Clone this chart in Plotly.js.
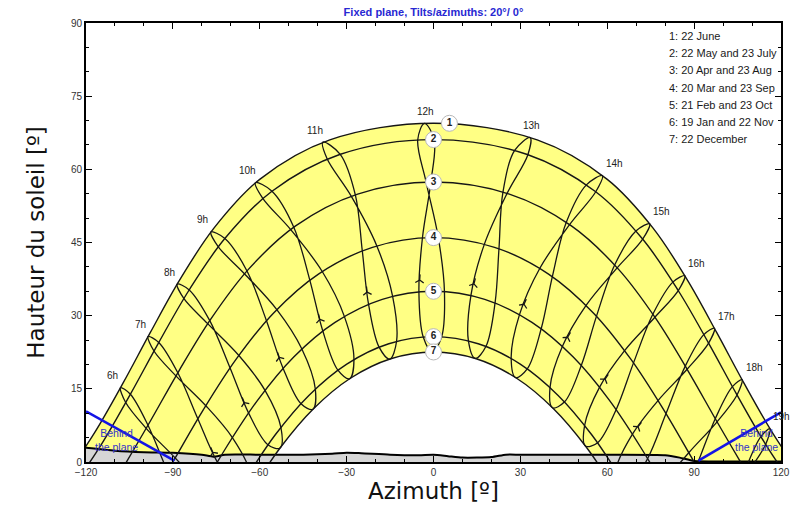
<!DOCTYPE html>
<html><head><meta charset="utf-8">
<script src="https://cdn.plot.ly/plotly-3.0.1.min.js"></script>
<style>html,body{margin:0;padding:0;background:#fff}#chart{width:791px;height:509px}</style>
</head><body><div id="chart"></div>
<script>
// ---------- Day paths (azimuth / altitude, degrees) ----------
const dayAz1 = [-127.27,-116.97,-107.32,-97.78,-87.64,-75.76,-59.9,-35.8,0,35.8,59.9,75.76,87.64,97.78,107.32,116.97,127.27];
const dayAlt1 = [-3.07,6.06,16.05,26.56,37.33,48.0,58.0,66.04,69.44,66.04,58.0,48.0,37.33,26.56,16.05,6.06,-3.07];
const dayAz2 = [-125.2,-114.63,-104.75,-94.94,-84.44,-72.13,-55.9,-32.4,0,32.4,55.9,72.13,84.44,94.94,104.75,114.63,125.2];
const dayAlt2 = [-5.68,3.67,13.82,24.43,35.21,45.76,55.46,63.04,66.1,63.04,55.46,45.76,35.21,24.43,13.82,3.67,-5.68];
const dayAz3 = [-108.6,-98.26,-87.94,-76.86,-63.92,-47.62,-26.2,0,26.2,47.62,63.92,76.86,87.94,98.26,108.6];
const dayAlt3 = [-2.59,7.89,18.65,29.33,39.49,48.41,54.92,57.4,54.92,48.41,39.49,29.33,18.65,7.89,-2.59];
const dayAz4 = [-100.54,-90,-79.46,-68.14,-55.2,-39.73,-21.09,0,21.09,39.73,55.2,68.14,79.46,90,100.54];
const dayAlt4 = [-10.73,0,10.73,21.08,30.57,38.53,44.01,46.0,44.01,38.53,30.57,21.08,10.73,0,-10.73];
const dayAz5 = [-82.04,-71.7,-60.64,-48.26,-34.0,-17.7,0,17.7,34.0,48.26,60.64,71.7,82.04];
const dayAlt5 = [-7.62,2.87,12.74,21.51,28.61,33.33,35.0,33.33,28.61,21.51,12.74,2.87,-7.62];
const dayAz6 = [-65.2,-54.7,-43.04,-29.95,-15.44,0,15.44,29.95,43.04,54.7,65.2];
const dayAlt6 = [-3.81,5.53,13.65,20.07,24.24,25.7,24.24,20.07,13.65,5.53,-3.81];
const dayAz7 = [-63.03,-52.73,-41.36,-28.7,-14.75,0,14.75,28.7,41.36,52.73,63.03];
const dayAlt7 = [-6.06,3.07,10.97,17.17,21.17,22.56,21.17,17.17,10.97,3.07,-6.06];
const dayNames = ['1','2','3','4','5','6','7'];
const dayLegend = ['1: 22 June','2: 22 May and 23 July','3: 20 Apr and 23 Aug','4: 20 Mar and 23 Sep','5: 21 Feb and 23 Oct','6: 19 Jan and 22 Nov','7: 22 December'];

// ---------- Hour analemmas: points at 20 Mar, 20 Apr, 22 May, 22 Jun, 23 Jul, 23 Aug, 23 Sep, 23 Oct, 22 Nov, 22 Dec, 19 Jan, 21 Feb ----------
const hourLabels = ['6h','7h','8h','9h','10h','11h','12h','13h','14h','15h','16h','17h','18h','19h'];
const az06 = [-91.86,-98.60,-104.68,-108.09,-106.29,-99.22,-89.19,-79.87,-73.2,-72.9,-77.4,-84.94];
const alt06 = [-1.89,7.54,13.89,15.23,12.19,6.90,0.82,-5.42,-12.2,-16.3,-16.2,-10.56];
const az07 = [-81.39,-88.30,-94.87,-98.57,-96.53,-88.94,-78.62,-69.45,-63.34,-63.28,-67.55,-74.69];
const alt07 = [8.87,18.29,24.50,25.71,22.75,17.65,11.54,5.01,-2.08,-6.27,-5.99,0.02];
const az08 = [-70.28,-77.26,-84.36,-88.52,-86.23,-77.98,-67.21,-58.18,-52.70,-52.98,-57.21,-63.92];
const alt08 = [19.33,28.98,35.28,36.47,33.54,28.36,21.84,14.70,7.10,2.87,3.55,10.13];
const az09 = [-57.71,-64.41,-72.03,-76.87,-74.36,-65.29,-54.11,-45.46,-40.81,-41.64,-45.85,-51.99];
const alt09 = [29.03,39.17,45.83,47.17,44.17,38.60,31.24,23.18,14.96,10.81,12.0,19.29];
const az10 = [-42.74,-48.25,-55.77,-61.50,-59.01,-49.38,-38.42,-30.79,-27.47,-29.01,-33.08,-38.28];
const alt10 = [37.34,48.15,55.52,57.28,54.11,47.69,39.05,29.85,21.02,17.05,18.87,26.96];
const az11 = [-24.60,-26.99,-32.21,-38.2,-36.78,-28.42,-19.57,-14.13,-12.75,-15.09,-18.83,-22.46];
const alt11 = [43.35,54.77,63.08,65.58,62.21,54.50,44.30,34.0,24.75,21.11,23.60,32.44];
const az12 = [-3.82,-0.91,0.23,-3.13,-5.45,-2.55,1.66,3.78,2.81,-0.35,-3.54,-5.04];
const alt12 = [45.98,57.40,66.10,69.43,66.02,57.38,46.0,34.93,25.65,22.56,25.63,34.87];
const az13 = [17.58,25.41,32.59,33.4,28.02,23.98,22.61,21.27,18.13,14.41,12.05,12.94];
const alt13 = [44.67,55.07,63.00,66.50,63.87,55.34,43.72,32.66,23.73,21.23,24.88,34.22];
const az14 = [36.72,46.99,56.03,58.30,52.79,45.86,41.04,37.21,32.43,28.39,26.82,29.72];
const alt14 = [39.72,48.67,55.40,58.72,56.81,49.13,38.01,27.37,19.12,17.29,21.27,30.26];
const az15 = [52.69,63.43,72.23,74.65,69.90,62.56,56.29,51.06,45.27,41.08,40.24,44.53];
const alt15 = [32.11,39.81,45.69,48.83,47.35,40.38,29.90,19.84,12.34,11.13,15.30,23.73];
const az16 = [65.99,76.46,84.52,86.76,82.65,75.74,69.07,63.10,56.70,52.48,52.19,57.36];
const alt16 = [22.83,29.68,35.14,38.19,36.88,30.30,20.32,10.78,3.96,3.27,7.51,15.35];
const az17 = [77.53,87.58,95.01,96.99,93.35,86.94,80.30,73.95,67.06,62.79,62.85,68.71];
const alt17 = [12.59,19.01,24.36,27.41,26.11,19.65,9.92,0.73,-5.54,-5.85,-1.63,5.72];
const az18 = [88.14,97.92,104.82,106.55,103.21,97.30,90.81,84.21,77.0,72.4,72.8,79.14];
const alt18 = [1.89,8.24,13.75,16.87,15.45,8.88,-0.82,-9.83,-15.7,-15.8,-11.7,-4.68];
const az19 = [98.7,108.26,114.70,116.17,113.03,107.63,101.3,94.5,86.8,82.0,82.5,89.5];
const alt19 = [-8.88,-2.25,3.61,6.82,5.20,-1.62,-11.5,-20.5,-26.2,-26.35,-22.6,-15.5];

// ---------- Horizon profile ----------
const horizonAz = [-120,-110,-100,-90,-80,-76,-72,-60,-45,-35,-30,-25,-15,-5,0,5,10,20,25,30,60,80,85,90,100,120];
const horizonAlt = [2.9,2.3,2.0,1.9,1.5,1.1,1.5,1.5,1.5,1.7,1.9,1.8,1.5,1.4,1.5,1.2,0.9,1.0,1.5,1.5,1.5,1.4,0.9,0.2,0.1,0.1];

// ---------- "Behind the plane" limits ----------
const behindLeftAz = [-120,-89.5];
const behindLeftAlt = [10.4,0.3];
const behindRightAz = [91.5,120];
const behindRightAlt = [0.3,10.2];

// ====================================================================
const dayAz = [dayAz1,dayAz2,dayAz3,dayAz4,dayAz5,dayAz6,dayAz7];
const dayAlt = [dayAlt1,dayAlt2,dayAlt3,dayAlt4,dayAlt5,dayAlt6,dayAlt7];
const hourAz = [az06,az07,az08,az09,az10,az11,az12,az13,az14,az15,az16,az17,az18,az19];
const hourAlt = [alt06,alt07,alt08,alt09,alt10,alt11,alt12,alt13,alt14,alt15,alt16,alt17,alt18,alt19];

const LINE = '#161616';
const traces = [];
traces.push({x: dayAz7, y: dayAlt7, mode:'lines', line:{width:0, shape:'spline', color:'rgba(0,0,0,0)'}, hoverinfo:'skip'});
traces.push({x: dayAz1, y: dayAlt1, mode:'lines', fill:'tonexty', fillcolor:'#ffff84', line:{width:0, shape:'spline', color:'rgba(0,0,0,0)'}, hoverinfo:'skip'});
traces.push({x: horizonAz, y: horizonAlt, mode:'lines', fill:'tozeroy', fillcolor:'#d6d6d6', line:{width:2, color:'#000', shape:'spline', smoothing:0.6}, hoverinfo:'skip'});
for (let i=0;i<7;i++) traces.push({x: dayAz[i], y: dayAlt[i], mode:'lines', line:{width:1.4, color:LINE, shape:'spline'}, hoverinfo:'skip'});
for (let i=0;i<hourAz.length;i++) {
  const xs = hourAz[i].concat([hourAz[i][0]]);
  const ys = hourAlt[i].concat([hourAlt[i][0]]);
  traces.push({x: xs, y: ys, mode:'lines', line:{width:1.3, color:LINE, shape:'spline'}, hoverinfo:'skip'});
}
const PX = 695/240, PY = 439/90;
const arX=[], arY=[], arA=[];
for (let i=0;i<hourAz.length;i++) {
  const fx = hourAz[i][11], fy = hourAlt[i][11], mx = hourAz[i][0], my = hourAlt[i][0];
  arX.push(fx + 0.22*(mx-fx)); arY.push(fy + 0.22*(my-fy));
  arA.push(Math.atan2((mx-fx)*PX, (my-fy)*PY)*180/Math.PI);
}
traces.push({x: arX, y: arY, mode:'markers', marker:{symbol:'y-up', size:7, angle: arA, color:LINE, line:{width:1.3, color:LINE}}, hoverinfo:'skip'});
traces.push({x: behindLeftAz, y: behindLeftAlt, mode:'lines', line:{width:2.6, color:'#1414e6'}, hoverinfo:'skip'});
traces.push({x: behindRightAz, y: behindRightAlt, mode:'lines', line:{width:2.6, color:'#1414e6'}, hoverinfo:'skip'});
const badgeX = dayAz.map((a,i)=> i===0 ? 5.5 : 0);
const badgeY = dayAlt.map(a => Math.max.apply(null,a));
traces.push({x: badgeX, y: badgeY, mode:'markers+text', text: dayNames, textposition:'middle center',
  textfont:{family:'Liberation Sans, Arial, sans-serif', size:10, color:'#222', weight:'bold'},
  marker:{size:16, color:'#ffffff', line:{width:1, color:'#b8b8b8'}}, cliponaxis:false, hoverinfo:'skip'});

const annotations = [];
for (let i=0;i<hourLabels.length;i++) {
  const ax = hourAz[i][3], ay = hourAlt[i][3];
  const xs = ax < -10 ? -8 : (ax > 40 ? 12 : 1);
  annotations.push({x: ax, y: ay, xref:'x', yref:'y', text: hourLabels[i], showarrow:false, xshift: xs, yshift: 12,
    font:{family:'Liberation Sans, Arial, sans-serif', size:10, color:'#222'}});
}
for (let i=0;i<dayLegend.length;i++) {
  annotations.push({xref:'paper', yref:'paper', x:(667-86)/695, y: 1-(12.7+i*17.27)/439, xanchor:'left', yanchor:'middle',
    text: dayLegend[i], showarrow:false, font:{family:'Liberation Sans, Arial, sans-serif', size:11, color:'#1a1a1a'}});
}
annotations.push({x:-109.5, y:4.6, xref:'x', yref:'y', text:'Behind<br>the plane', showarrow:false, align:'center',
  font:{family:'Liberation Sans, Arial, sans-serif', size:10.5, color:'#3434c8'}});
annotations.push({x:111.5, y:4.6, xref:'x', yref:'y', text:'Behind<br>the plane', showarrow:false, align:'center',
  font:{family:'Liberation Sans, Arial, sans-serif', size:10.5, color:'#3434c8'}});

const tickFont = {family:'Liberation Sans, Arial, sans-serif', size:10, color:'#333'};
const titleFont = {family:'DejaVu Sans, sans-serif', size:23, color:'#111'};
const layout = {
  width:791, height:509,
  margin:{l:86, r:10, t:23, b:47, autoexpand:false},
  paper_bgcolor:'#fff', plot_bgcolor:'#fff',
  showlegend:false,
  title:{text:'<b>Fixed plane, Tilts/azimuths: 20°/ 0°</b>', x:0.5, xref:'paper', xanchor:'center', y:1-12/509, yref:'container', yanchor:'middle',
    font:{family:'Liberation Sans, Arial, sans-serif', size:11, color:'#2828d2'}},
  xaxis:{range:[-120,120], tick0:-120, dtick:30, ticks:'inside', ticklen:6, tickcolor:'#000', tickwidth:1,
    showline:true, linecolor:'#000', linewidth:2, mirror:'allticks', showgrid:false, zeroline:false, automargin:false,
    tickfont: tickFont, minor:{dtick:10, tick0:-120, ticks:'inside', ticklen:3, tickcolor:'#000', showgrid:false},
    title:{text:'Azimuth [º]', font: titleFont, standoff:6}},
  yaxis:{range:[0,90], tick0:0, dtick:15, ticks:'inside', ticklen:6, tickcolor:'#000', tickwidth:1,
    showline:true, linecolor:'#000', linewidth:2, mirror:'allticks', showgrid:false, zeroline:false, automargin:false,
    tickfont: tickFont, minor:{dtick:5, tick0:0, ticks:'inside', ticklen:3, tickcolor:'#000', showgrid:false},
    title:{text:'Hauteur du soleil [º]', font: titleFont, standoff:20}},
  annotations: annotations
};
Plotly.newPlot('chart', traces, layout, {staticPlot:true, displayModeBar:false});
</script>
</body></html>
